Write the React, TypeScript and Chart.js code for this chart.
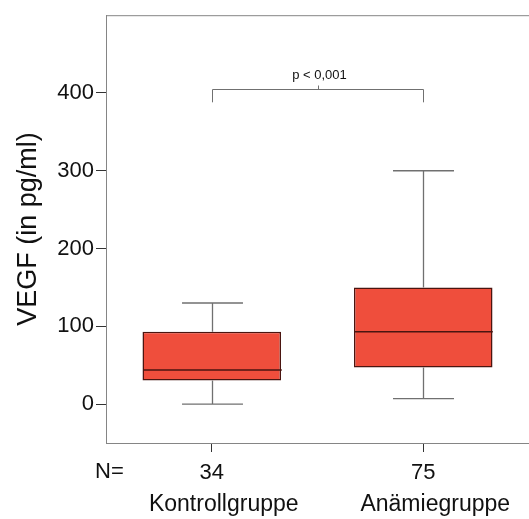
import React, { useEffect, useRef } from "react";
import { Chart, registerables } from "chart.js";

Chart.register(...registerables);

const groups = ["Kontrollgruppe", "Anämiegruppe"];
const nCounts = ["34", "75"];
const whiskerLow = [0, 7];
const q1 = [30.5, 47];
const median = [44, 93];
const q3 = [93, 150];
const whiskerHigh = [130, 300];
const yTicks = [0, 100, 200, 300, 400];
const pText = "p < 0,001";
const bracketTop = 405;
const bracketLeg = 388;

const FONT = "'Liberation Sans', Arial, sans-serif";
const AXIS_GRAY = "#858585";
const WHISKER = "#707070";
const BOX_FILL = "#EF4E3C";
const BOX_EDGE = "#4a1510";

const boxPlugin = {
  id: "boxExtras",
  afterDatasetsDraw(chart: any) {
    const { ctx, chartArea, scales } = chart;
    const x = scales.x;
    const y = scales.y;
    const meta = chart.getDatasetMeta(0);
    ctx.save();
    // top frame line
    ctx.strokeStyle = AXIS_GRAY;
    ctx.lineWidth = 1;
    ctx.beginPath();
    ctx.moveTo(chartArea.left, chartArea.top + 0.5);
    ctx.lineTo(chartArea.right, chartArea.top + 0.5);
    ctx.stroke();

    groups.forEach((_, i) => {
      const cx = Math.round(x.getPixelForValue(i)) + 0.5;
      const bw = meta.data[i].width;
      const cap = bw * 0.44;
      ctx.strokeStyle = WHISKER;
      ctx.lineWidth = 1.3;
      ctx.beginPath();
      ctx.moveTo(cx, y.getPixelForValue(q3[i]));
      ctx.lineTo(cx, y.getPixelForValue(whiskerHigh[i]));
      ctx.moveTo(cx, y.getPixelForValue(q1[i]));
      ctx.lineTo(cx, y.getPixelForValue(whiskerLow[i]));
      ctx.moveTo(cx - cap / 2, y.getPixelForValue(whiskerHigh[i]));
      ctx.lineTo(cx + cap / 2, y.getPixelForValue(whiskerHigh[i]));
      ctx.moveTo(cx - cap / 2, y.getPixelForValue(whiskerLow[i]));
      ctx.lineTo(cx + cap / 2, y.getPixelForValue(whiskerLow[i]));
      ctx.stroke();
      // median
      ctx.strokeStyle = BOX_EDGE;
      ctx.lineWidth = 1.5;
      ctx.beginPath();
      ctx.moveTo(cx - bw / 2, y.getPixelForValue(median[i]));
      ctx.lineTo(cx + bw / 2, y.getPixelForValue(median[i]));
      ctx.stroke();
    });

    // significance bracket
    const x0 = Math.round(x.getPixelForValue(0)) + 0.5;
    const x1 = Math.round(x.getPixelForValue(1)) + 0.5;
    const yt = Math.round(y.getPixelForValue(bracketTop)) + 0.5;
    const yl = y.getPixelForValue(bracketLeg);
    const xm = Math.round((x0 + x1) / 2) + 0.5;
    ctx.strokeStyle = WHISKER;
    ctx.lineWidth = 1;
    ctx.beginPath();
    ctx.moveTo(x0, yl);
    ctx.lineTo(x0, yt);
    ctx.lineTo(x1, yt);
    ctx.lineTo(x1, yl);
    ctx.moveTo(xm, yt);
    ctx.lineTo(xm, yt - 4);
    ctx.stroke();
    ctx.fillStyle = "#111";
    ctx.font = `13px ${FONT}`;
    ctx.textAlign = "center";
    ctx.textBaseline = "alphabetic";
    ctx.fillText(pText, xm + 1, yt - 11);

    // N= and group names
    ctx.font = `22px ${FONT}`;
    ctx.textAlign = "left";
    ctx.fillText("N=", chartArea.left - 11, chartArea.bottom + 35);
    ctx.font = `23px ${FONT}`;
    ctx.textAlign = "center";
    groups.forEach((g, i) => {
      ctx.fillText(g, x.getPixelForValue(i) + 12, chartArea.bottom + 68);
    });
    ctx.restore();
  },
};

export default function App() {
  const ref = useRef<HTMLCanvasElement | null>(null);
  useEffect(() => {
    if (!ref.current) return;
    const chart = new Chart(ref.current, {
      type: "bar",
      data: {
        labels: groups,
        datasets: [
          {
            data: groups.map((_, i) => [q1[i], q3[i]]) as any,
            backgroundColor: BOX_FILL,
            borderColor: BOX_EDGE,
            borderWidth: 1.5,
            borderSkipped: false,
            barPercentage: 0.655,
            categoryPercentage: 1,
          },
        ],
      },
      options: {
        animation: false,
        responsive: true,
        maintainAspectRatio: false,
        layout: { padding: { top: 11, right: 0, bottom: 0, left: 0 } },
        plugins: {
          legend: { display: false },
          tooltip: { enabled: false },
        },
        scales: {
          x: {
            type: "category",
            offset: true,
            grid: {
              offset: false,
              drawOnChartArea: false,
              drawTicks: true,
              tickLength: 9,
              color: "#333",
            },
            border: { display: true, color: AXIS_GRAY, width: 1 },
            ticks: {
              padding: 8,
              color: "#111",
              font: { family: FONT, size: 22 },
              callback: (_v: any, i: number) => nCounts[i],
            },
            afterFit: (s: any) => {
              s.height = 76;
            },
          },
          y: {
            type: "linear",
            min: -50,
            max: 500,
            afterBuildTicks: (s: any) => {
              s.ticks = yTicks.map((v) => ({ value: v }));
            },
            grid: {
              drawOnChartArea: false,
              drawTicks: true,
              tickLength: 10,
              color: "#333",
            },
            border: { display: true, color: AXIS_GRAY, width: 1 },
            ticks: {
              padding: 2,
              color: "#111",
              font: { family: FONT, size: 22 },
            },
            title: {
              display: true,
              text: "VEGF (in pg/ml)",
              color: "#111",
              font: { family: FONT, size: 27 },
              padding: { top: 12, bottom: 0 },
            },
            afterFit: (s: any) => {
              s.width = 106;
            },
          },
        },
      },
      plugins: [boxPlugin],
    });
    return () => chart.destroy();
  }, []);
  return (
    <div
      style={{
        position: "absolute",
        left: 0,
        top: 0,
        width: 529,
        height: 519,
        background: "#fff",
      }}
    >
      <canvas ref={ref} />
    </div>
  );
}
